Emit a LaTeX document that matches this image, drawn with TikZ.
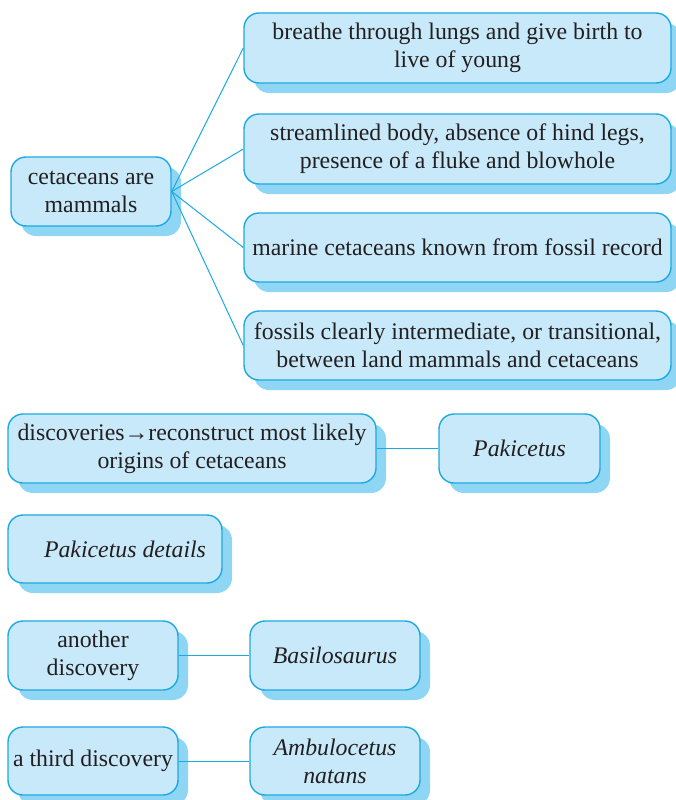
\documentclass[tikz,border=0pt]{standalone}
\usepackage{fontspec}
\setmainfont{Liberation Serif}
\usepackage{tikz}
\usetikzlibrary{shapes, arrows, positioning, calc, shadows}

\definecolor{boxfill}{RGB}{200,233,249}
\definecolor{boxline}{RGB}{27,169,225}
\definecolor{boxshade}{RGB}{143,214,245}
\definecolor{boxtext}{RGB}{35,31,32}

\begin{document}
\begin{tikzpicture}[
    x=1pt, y=-1pt,
    block/.style={rectangle, draw=boxline, fill=boxfill, line width=1.4pt, rounded corners=15pt, align=center, inner sep=2pt,
        font=\fontsize{23.8}{28}\selectfont, text=boxtext,
        general shadow={fill=boxshade, shadow xshift=10pt, shadow yshift=-10pt}},
    line/.style={draw=boxline, line width=1pt}
]
\useasboundingbox (0,0) rectangle (676,800);

% Nodes
\node[block, minimum width=160pt, minimum height=69pt] (mammals) at (91,191.5) {cetaceans are\\mammals};
\node[block, minimum width=427pt, minimum height=70pt] (lungs) at (457.5,48) {breathe through lungs and give birth to\\live of young};
\node[block, minimum width=427pt, minimum height=70pt] (body) at (457.5,149) {streamlined body, absence of hind legs,\\presence of a fluke and blowhole};
\node[block, minimum width=427pt, minimum height=69pt] (record) at (457.5,247.5) {marine cetaceans known from fossil record};
\node[block, minimum width=427pt, minimum height=69pt] (fossils) at (457.5,345.5) {fossils clearly intermediate, or transitional,\\between land mammals and cetaceans};

\node[block, minimum width=368pt, minimum height=69pt] (origins) at (192,448.5) {discoveries→reconstruct most likely\\origins of cetaceans};
\node[block, minimum width=161pt, minimum height=69pt] (pakicetus) at (519.5,448.5) {\itshape Pakicetus};
\node[block, minimum width=214pt, minimum height=68pt] (details) at (115,549) {\hspace{20pt}\itshape Pakicetus details};

\node[block, minimum width=170pt, minimum height=69pt] (another) at (93,655.5) {another\\discovery};
\node[block, minimum width=170pt, minimum height=69pt] (basilo) at (335,655.5) {\itshape Basilosaurus};
\node[block, minimum width=170pt, minimum height=68pt] (third) at (93,761) {a third discovery};
\node[block, minimum width=170pt, minimum height=68pt] (ambulo) at (335,761) {\itshape Ambulocetus\\\itshape natans};

% Paths
\path[line] (mammals.east) -- (lungs.west);
\path[line] (mammals.east) -- (body.west);
\path[line] (mammals.east) -- (record.west);
\path[line] (mammals.east) -- (fossils.west);
\path[line] (origins) -- (pakicetus);
\path[line] (another) -- (basilo);
\path[line] (third) -- (ambulo);

\end{tikzpicture}
\end{document}
